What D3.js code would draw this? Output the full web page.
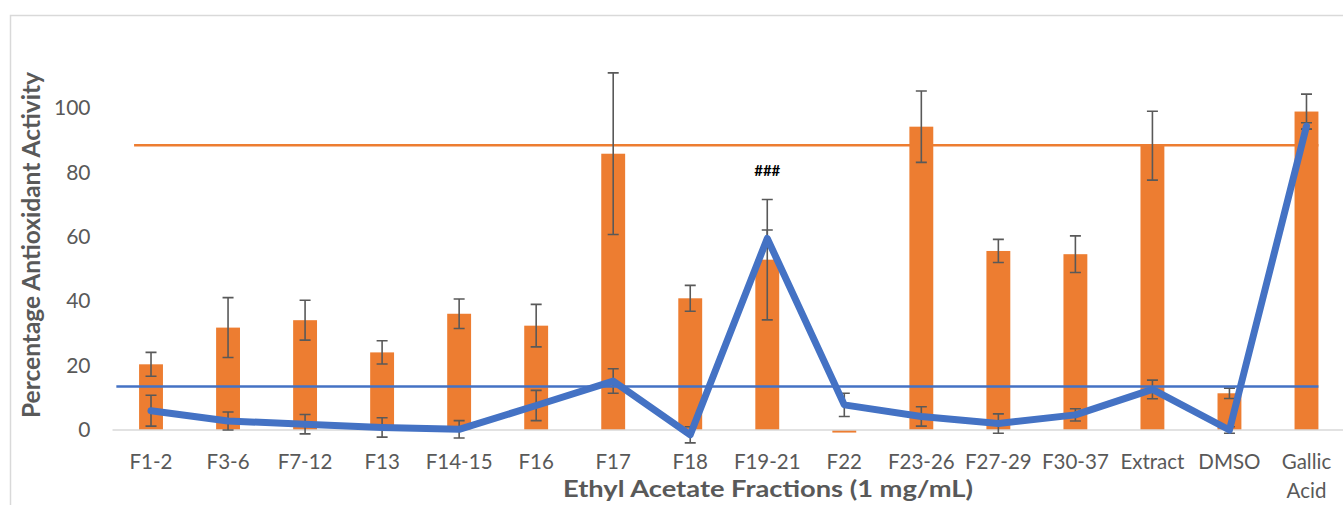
<!DOCTYPE html>
<html>
<head>
<meta charset="utf-8">
<script src="https://cdn.jsdelivr.net/npm/d3@7"></script>
<style>
  body { margin: 0; background: #fff; }
  text { font-family: Lato, "Open Sans", sans-serif; }
</style>
</head>
<body>
<div id="chart"></div>
<script>
const categories = ["F1-2", "F3-6", "F7-12", "F13", "F14-15", "F16", "F17", "F18", "F19-21", "F22",
  "F23-26", "F27-29", "F30-37", "Extract", "DMSO", "Gallic Acid"];

// orange bars (mean and error)
const barValues = [20.4, 31.8, 34.1, 24.1, 36.1, 32.4, 85.8, 40.9, 52.9, -0.8, 94.2, 55.6, 54.6, 88.3, 11.4, 98.9];
const barErrors = [3.7, 9.3, 6.2, 3.6, 4.6, 6.6, 25.1, 4.0, 18.7, 0, 11.1, 3.6, 5.7, 10.7, 1.6, 5.4];

// blue line (mean and error)
const lineValues = [6.0, 2.8, 1.8, 0.8, 0.2, 7.6, 15.2, -1.5, 59.5, 7.8, 4.2, 2.0, 4.7, 12.6, 0.0, 94.4];
const lineErrors = [4.8, 2.8, 3.0, 3.0, 2.7, 4.7, 3.8, 2.5, 2.6, 3.6, 3.0, 3.0, 1.9, 2.9, 1.0, 1.0];

// reference levels
const orangeRef = 88.4;
const blueRef = 13.5;

const yTicks = [0, 20, 40, 60, 80, 100];
const annotations = [{ category: "F19-21", value: 80.5, text: "###" }];

const width = 1343, height = 505;
const margin = { top: 108, bottom: 75, left: 112.5 };

const svg = d3.select("#chart").append("svg")
  .attr("width", width)
  .attr("height", height);

const x = d3.scaleBand()
  .domain(categories)
  .range([margin.left, 1345])
  .paddingInner(0.69)
  .paddingOuter(0.345);

const y = d3.scaleLinear()
  .domain([0, 100])
  .range([height - margin.bottom, margin.top]);

const cx = c => x(c) + x.bandwidth() / 2;

// chart frame
svg.append("path")
  .attr("d", `M10.5,${height}V15.5H${width}`)
  .attr("fill", "none")
  .attr("stroke", "#d9d9d9")
  .attr("stroke-width", 1.5);

// y axis labels
const yAxis = svg.append("g")
  .attr("transform", `translate(${margin.left - 22},0)`)
  .call(d3.axisLeft(y).tickValues(yTicks).tickSize(0).tickPadding(0));
yAxis.select(".domain").remove();
yAxis.selectAll("text")
  .attr("fill", "#595959")
  .style("font-size", "21px")
  .style("font-family", "Lato, sans-serif");

// orange reference line (behind bars)
svg.append("line")
  .attr("x1", cx(categories[0]) - x.step() * 0.22)
  .attr("x2", x(categories[categories.length - 1]) + x.bandwidth())
  .attr("y1", y(orangeRef))
  .attr("y2", y(orangeRef))
  .attr("stroke", "#ed7d31")
  .attr("stroke-width", 2.5);

// bars
svg.append("g").selectAll("rect")
  .data(categories)
  .join("rect")
  .attr("x", d => x(d))
  .attr("width", x.bandwidth())
  .attr("y", (d, i) => y(Math.max(0, barValues[i])))
  .attr("height", (d, i) => Math.abs(y(barValues[i]) - y(0)))
  .attr("fill", "#ed7d31");

// x axis line
svg.append("line")
  .attr("x1", margin.left)
  .attr("x2", width)
  .attr("y1", y(0))
  .attr("y2", y(0))
  .attr("stroke", "#d9d9d9")
  .attr("stroke-width", 1.5);

function errorBars(values, errors) {
  const g = svg.append("g")
    .attr("stroke", "#595959")
    .attr("stroke-width", 1.6)
    .attr("fill", "none");
  categories.forEach((c, i) => {
    if (!errors[i]) return;
    const xc = cx(c);
    const top = y(values[i] + errors[i]);
    const bot = y(values[i] - errors[i]);
    g.append("path")
      .attr("d", `M${xc},${top}V${bot}M${xc - 5.5},${top}H${xc + 5.5}M${xc - 5.5},${bot}H${xc + 5.5}`);
  });
}

errorBars(barValues, barErrors);
errorBars(lineValues, lineErrors);

// blue line
const line = d3.line()
  .x((d, i) => cx(categories[i]))
  .y(d => y(d));

svg.append("path")
  .datum(lineValues)
  .attr("d", line)
  .attr("fill", "none")
  .attr("stroke", "#4472c4")
  .attr("stroke-width", 7)
  .attr("stroke-linejoin", "round")
  .attr("stroke-linecap", "round");

// blue reference line
svg.append("line")
  .attr("x1", cx(categories[0]) - x.step() * 0.45)
  .attr("x2", x(categories[categories.length - 1]) + x.bandwidth())
  .attr("y1", y(blueRef))
  .attr("y2", y(blueRef))
  .attr("stroke", "#4472c4")
  .attr("stroke-width", 2.5);

// annotation
svg.append("g").selectAll("text")
  .data(annotations)
  .join("text")
  .attr("x", d => cx(d.category))
  .attr("y", d => y(d.value))
  .attr("dy", "0.35em")
  .attr("text-anchor", "middle")
  .attr("fill", "#000")
  .style("font-size", "15px")
  .style("font-weight", "bold")
  .text(d => d.text);

// x tick labels
const xLabels = svg.append("g").selectAll("text")
  .data(categories)
  .join("text")
  .attr("x", d => cx(d))
  .attr("y", 469)
  .attr("text-anchor", "middle")
  .attr("fill", "#595959")
  .style("font-size", "20.5px");
xLabels.each(function (d) {
  const words = d === "Gallic Acid" ? ["Gallic", "Acid"] : [d];
  words.forEach((w, k) => {
    d3.select(this).append("tspan")
      .attr("x", cx(d))
      .attr("dy", k === 0 ? 0 : 29)
      .text(w);
  });
});

// axis titles
svg.append("text")
  .attr("transform", `translate(40,245) rotate(-90)`)
  .attr("text-anchor", "middle")
  .attr("fill", "#595959")
  .style("font-size", "24px")
  .style("font-weight", "bold")
  .attr("textLength", 346)
  .attr("lengthAdjust", "spacingAndGlyphs")
  .text("Percentage Antioxidant Activity");

svg.append("text")
  .attr("x", 768)
  .attr("y", 497)
  .attr("text-anchor", "middle")
  .attr("fill", "#595959")
  .style("font-size", "23px")
  .style("font-weight", "bold")
  .attr("textLength", 410)
  .attr("lengthAdjust", "spacingAndGlyphs")
  .text("Ethyl Acetate Fractions (1 mg/mL)");
</script>
</body>
</html>
